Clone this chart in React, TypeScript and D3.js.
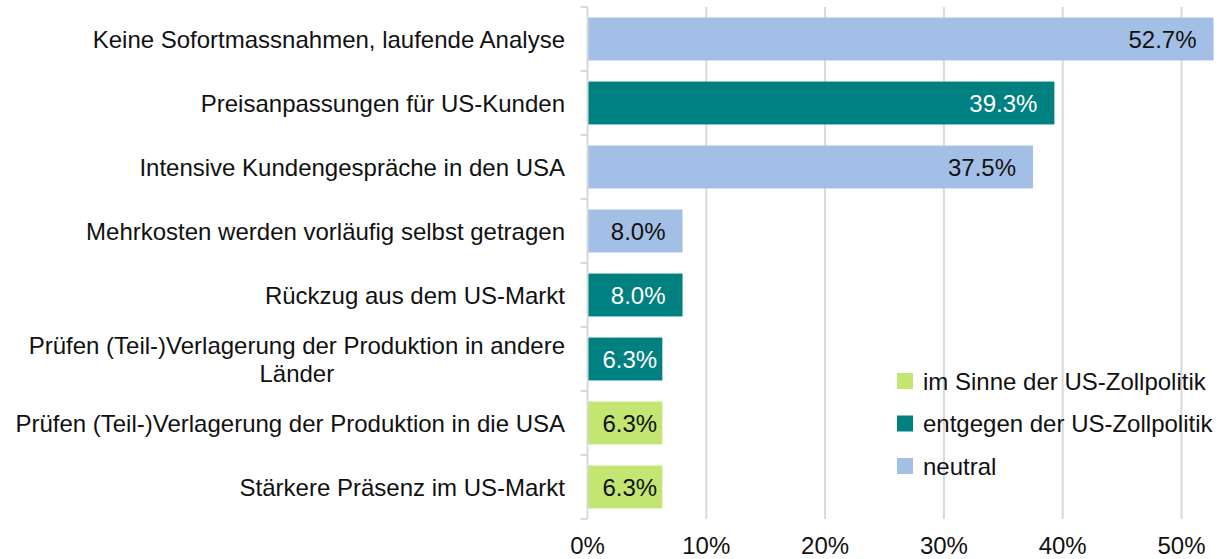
import React, { useEffect, useRef } from "react";
import * as d3 from "d3";

const categories = [
  "Keine Sofortmassnahmen, laufende Analyse",
  "Preisanpassungen für US-Kunden",
  "Intensive Kundengespräche in den USA",
  "Mehrkosten werden vorläufig selbst getragen",
  "Rückzug aus dem US-Markt",
  "Prüfen (Teil-)Verlagerung der Produktion in andere Länder",
  "Prüfen (Teil-)Verlagerung der Produktion in die USA",
  "Stärkere Präsenz im US-Markt",
];
const values = [52.7, 39.3, 37.5, 8.0, 8.0, 6.3, 6.3, 6.3];
const groups = ["neutral", "entgegen", "neutral", "neutral", "entgegen", "entgegen", "im Sinne", "im Sinne"];
const legendKeys = ["im Sinne", "entgegen", "neutral"];
const legendLabels = ["im Sinne der US-Zollpolitik", "entgegen der US-Zollpolitik", "neutral"];
const xTicks = [0, 10, 20, 30, 40, 50];

const colors: Record<string, string> = {
  "im Sinne": "#c3e572",
  entgegen: "#008080",
  neutral: "#a3bfe6",
};
const labelColors: Record<string, string> = {
  "im Sinne": "#111",
  entgegen: "#fff",
  neutral: "#111",
};

export default function App() {
  const ref = useRef<SVGSVGElement | null>(null);
  useEffect(() => {
    const svg = d3.select(ref.current);
    svg.selectAll("*").remove();
    const W = 1228, H = 559;
    const x0 = 587.5;
    const x = d3.scaleLinear().domain([0, 53]).range([x0, x0 + 53 * 11.88]);
    const y = d3.scaleBand<number>().domain(d3.range(categories.length)).range([7, 519]).paddingInner(0.33).paddingOuter(0.165);
    const font = "Liberation Sans, Arial, sans-serif";
    const fs = 24;
    const g = svg.append("g");

    // gridlines
    g.selectAll("line.grid").data(xTicks.slice(1)).enter().append("line")
      .attr("x1", (d) => x(d)).attr("x2", (d) => x(d))
      .attr("y1", 7).attr("y2", 519)
      .attr("stroke", "#d9d9d9").attr("stroke-width", 2);

    // bars
    g.selectAll("rect.bar").data(values).enter().append("rect")
      .attr("x", x(0)).attr("y", (_, i) => y(i)!)
      .attr("width", (d) => x(d) - x(0)).attr("height", y.bandwidth())
      .attr("fill", (_, i) => colors[groups[i]]);

    // category axis line and ticks
    g.append("line").attr("x1", x0).attr("x2", x0).attr("y1", 7).attr("y2", 519)
      .attr("stroke", "#d9d9d9").attr("stroke-width", 2);
    const step = y.step();
    g.selectAll("line.tick").data(d3.range(categories.length + 1)).enter().append("line")
      .attr("x1", x0 - 7).attr("x2", x0)
      .attr("y1", (d) => 7 + d * step).attr("y2", (d) => 7 + d * step)
      .attr("stroke", "#d9d9d9").attr("stroke-width", 2);

    // x tick labels
    g.selectAll("text.xt").data(xTicks).enter().append("text")
      .attr("x", (d) => x(d)).attr("y", 553.5)
      .attr("text-anchor", "middle")
      .attr("font-family", font).attr("font-size", fs).attr("fill", "#111")
      .text((d) => `${d}%`);

    // category labels
    const labelX = 565;
    categories.forEach((c, i) => {
      const cy = y(i)! + y.bandwidth() / 2;
      if (c.length > 52) {
        const words = c.split(" ");
        const l1 = words.slice(0, -1).join(" ");
        const l2 = words[words.length - 1];
        const t1 = g.append("text").attr("x", labelX).attr("y", cy - 14)
          .attr("text-anchor", "end").attr("dominant-baseline", "central")
          .attr("font-family", font).attr("font-size", fs).attr("fill", "#111").text(l1);
        const w = (t1.node() as SVGTextElement).getComputedTextLength();
        g.append("text").attr("x", labelX - w / 2).attr("y", cy + 14)
          .attr("text-anchor", "middle").attr("dominant-baseline", "central")
          .attr("font-family", font).attr("font-size", fs).attr("fill", "#111").text(l2);
      } else {
        g.append("text").attr("x", labelX).attr("y", cy)
          .attr("text-anchor", "end").attr("dominant-baseline", "central")
          .attr("font-family", font).attr("font-size", fs).attr("fill", "#111").text(c);
      }
    });

    // value labels
    values.forEach((v, i) => {
      const t = g.append("text")
        .attr("y", y(i)! + y.bandwidth() / 2)
        .attr("text-anchor", "end").attr("dominant-baseline", "central")
        .attr("font-family", font).attr("font-size", fs)
        .attr("fill", labelColors[groups[i]])
        .text(`${v.toFixed(1)}%`);
      const tw = (t.node() as SVGTextElement).getComputedTextLength();
      const barW = x(v) - x(0);
      const pad = Math.max(0, Math.min(17, barW - tw - 15));
      t.attr("x", x(v) - pad);
    });

    // legend
    legendKeys.forEach((k, i) => {
      const ly = 381 + i * 42.5;
      g.append("rect").attr("x", 897).attr("y", ly - 8).attr("width", 16).attr("height", 16).attr("fill", colors[k]);
      g.append("text").attr("x", 923).attr("y", ly).attr("dominant-baseline", "central")
        .attr("font-family", font).attr("font-size", fs).attr("fill", "#111").text(legendLabels[i]);
    });
    svg.attr("width", W).attr("height", H);
  }, []);
  return (
    <svg ref={ref} width={1228} height={559} style={{ position: "absolute", left: 0, top: 0, background: "#fff" }} />
  );
}
